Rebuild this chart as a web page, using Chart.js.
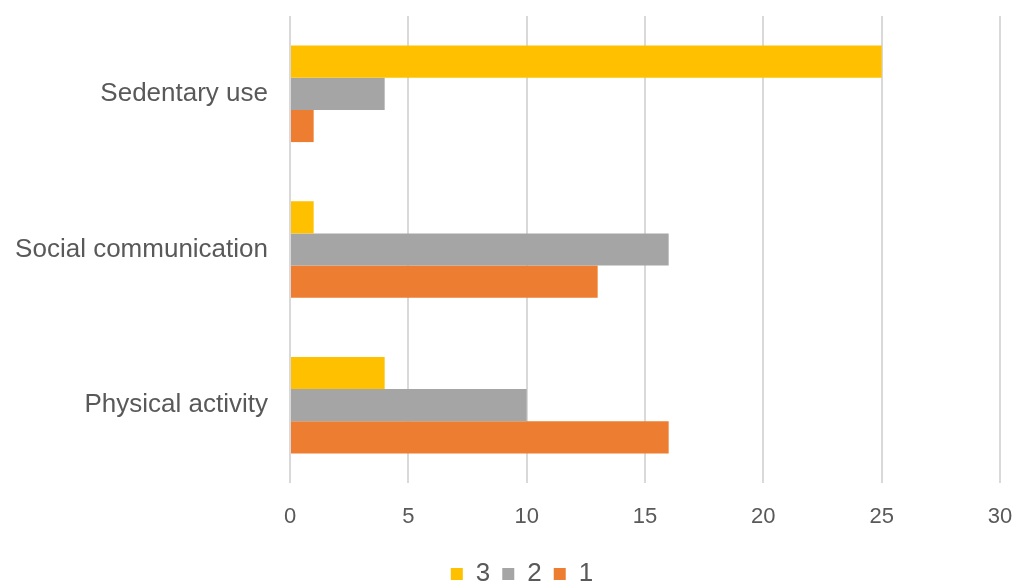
<!DOCTYPE html>
<html>
<head>
<meta charset="utf-8">
<script src="https://cdn.jsdelivr.net/npm/chart.js@4/dist/chart.umd.min.js"></script>
<style>
  html, body { margin: 0; padding: 0; background: #fff; overflow: hidden; }
  canvas { display: block; }
</style>
</head>
<body>
<canvas id="barChart" width="1015" height="597"></canvas>
<script>
const categories = ["Sedentary use", "Social communication", "Physical activity"];
const seriesNames = ["3", "2", "1"];
const values3 = [25, 1, 4];
const values2 = [4, 16, 10];
const values1 = [1, 13, 16];
const xTicks = [0, 5, 10, 15, 20, 25, 30];

const colors = ['#FFC000', '#A5A5A5', '#ED7D31'];

Chart.defaults.font.family = "'Liberation Sans', Arial, sans-serif";
Chart.defaults.color = '#595959';

// the original legend sits a bit right of centre
const legendShift = {
    id: 'legendShift',
    afterLayout: function(chart) {
        chart.legend.left += 22;
        chart.legend.right += 22;
    }
};

var ctx = document.getElementById('barChart').getContext('2d');
var barChart = new Chart(ctx, {
    type: 'bar',
    data: {
        labels: categories,
        datasets: [values3, values2, values1].map(function(v, i) {
            return {
                label: seriesNames[i],
                data: v,
                backgroundColor: colors[i],
                borderWidth: 0,
                categoryPercentage: 0.62,
                barPercentage: 1.0
            };
        })
    },
    plugins: [legendShift],
    options: {
        indexAxis: 'y',
        responsive: false,
        animation: false,
        maintainAspectRatio: false,
        layout: { padding: { left: 0, right: 15, top: 16, bottom: 0 } },
        plugins: {
            legend: {
                position: 'bottom',
                labels: {
                    boxWidth: 12,
                    boxHeight: 12,
                    padding: 12,
                    font: { size: 26 },
                    color: '#595959'
                }
            },
            tooltip: { enabled: false }
        },
        scales: {
            x: {
                min: 0,
                max: 30,
                afterBuildTicks: function(scale) {
                    scale.ticks = xTicks.map(function(t) { return { value: t }; });
                },
                afterFit: function(scale) {
                    scale.paddingLeft = 0;
                    scale.paddingRight = 0;
                    scale.height = 66;
                },
                grid: { color: '#d9d9d9', lineWidth: 2, drawTicks: false },
                border: { display: false },
                ticks: { font: { size: 22 }, padding: 21, color: '#595959' }
            },
            y: {
                afterFit: function(scale) {
                    scale.width = 290;
                    scale.paddingTop = 0;
                    scale.paddingBottom = 0;
                },
                grid: { display: false, drawTicks: false },
                border: { display: false },
                ticks: { font: { size: 26 }, padding: 22, color: '#595959' }
            }
        }
    }
});
</script>
</body>
</html>
